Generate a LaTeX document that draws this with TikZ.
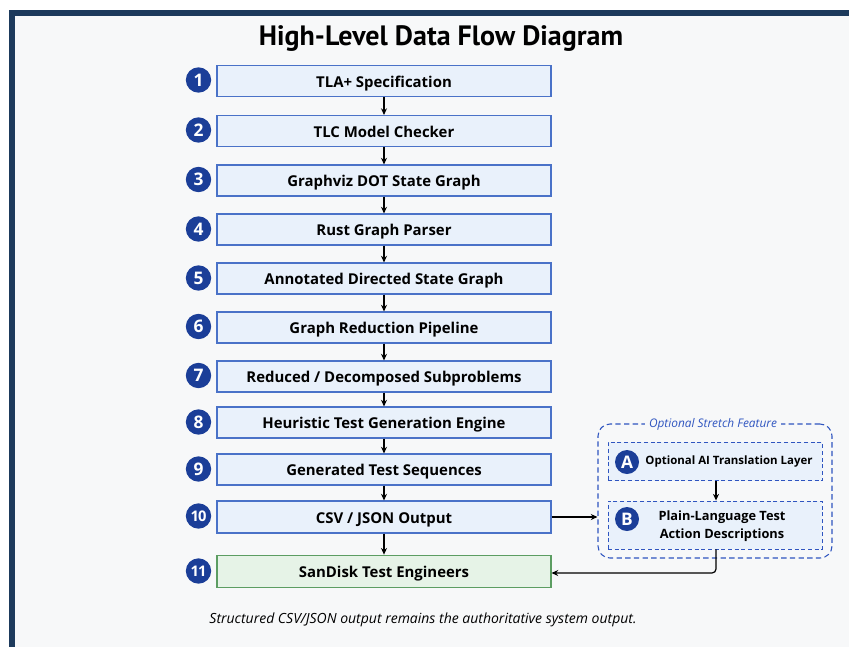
\documentclass[tikz,border=0pt]{standalone}
\usepackage{fontspec}
\setmainfont{Open Sans}
\newfontfamily\titlefont{PT Sans}
\usetikzlibrary{arrows.meta,positioning}
\definecolor{framenavy}{HTML}{1D3A5C}
\definecolor{pagebg}{HTML}{F7F8F9}
\definecolor{stepfill}{HTML}{E9F1FB}
\definecolor{stepline}{HTML}{4A72C8}
\definecolor{endfill}{HTML}{E6F3E7}
\definecolor{endline}{HTML}{5C9D62}
\definecolor{badgeblue}{HTML}{1B3E98}
\definecolor{optblue}{HTML}{2F55C0}
\tikzset{
  stepbox/.style={draw=stepline, fill=stepfill, line width=0.8pt,
    minimum width=250.5pt, minimum height=23.25pt, inner sep=0pt,
    text height=1.2em, text depth=0.25em,
    font=\fontsize{11.2}{13}\selectfont\bfseries},
  endbox/.style={stepbox, draw=endline, fill=endfill, minimum height=24.5pt},
  badge/.style={circle, fill=badgeblue, text=white, minimum size=19pt,
    inner sep=0pt, font=\fontsize{13}{14}\selectfont\bfseries},
  badgetwo/.style={badge, font=\fontsize{11}{12}\selectfont\bfseries\addfontfeature{LetterSpace=-6}},
  optbox/.style={draw=optblue, dashed, dash pattern=on 3pt off 2pt,
    fill=stepfill, line width=0.7pt, minimum width=160.5pt, inner sep=0pt},
  flow/.style={-{Stealth[length=5pt,width=4.5pt]}, line width=0.9pt, black},
}
\begin{document}
\begin{tikzpicture}[x=0.75pt,y=-0.75pt]
  % page and frame
  \useasboundingbox (0,0) rectangle (849,647);
  \fill[white] (0,0) rectangle (849,647);
  \fill[pagebg] (9,10) rectangle (849,647);
  \fill[framenavy] (9,10) rectangle (849,16);
  \fill[framenavy] (9,10) rectangle (15,647);

  % title
  \node (title) at (441,39) {\titlefont\fontsize{21}{24}\selectfont\bfseries High-Level Data Flow Diagram};

  % main pipeline
  \node[stepbox] (s1)  at (384,81)    {TLA+ Specification};
  \node[stepbox] (s2)  at (384,131)   {TLC Model Checker};
  \node[stepbox] (s3)  at (384,180.5) {Graphviz DOT State Graph};
  \node[stepbox] (s4)  at (384,229.5) {Rust Graph Parser};
  \node[stepbox] (s5)  at (384,278.5) {Annotated Directed State Graph};
  \node[stepbox] (s6)  at (384,327.5) {Graph Reduction Pipeline};
  \node[stepbox] (s7)  at (384,376.5) {Reduced / Decomposed Subproblems};
  \node[stepbox] (s8)  at (384,422.5) {Heuristic Test Generation Engine};
  \node[stepbox] (s9)  at (384,469.5) {Generated Test Sequences};
  \node[stepbox, minimum height=24pt] (s10) at (384,517) {CSV / JSON Output};
  \node[endbox]  (s11) at (384,571.5) {SanDisk Test Engineers};

  % step numbers
  \node[badge] (n1) at (198.5,80)    {1};
  \node[badge] (n2) at (198.5,130)   {2};
  \node[badge] (n3) at (198.5,179.5) {3};
  \node[badge] (n4) at (198.5,229)   {4};
  \node[badge] (n5) at (198.5,278)   {5};
  \node[badge] (n6) at (198.5,326.5) {6};
  \node[badge] (n7) at (198.5,375.5) {7};
  \node[badge] (n8) at (198.5,422)   {8};
  \node[badge] (n9) at (198.5,469)   {9};
  \node[badgetwo] (n10) at (198.5,516) {10};
  \node[badgetwo] (n11) at (198.5,571) {11};

  % pipeline arrows
  \foreach \a/\b in {s1/s2,s2/s3,s3/s4,s4/s5,s5/s6,s6/s7,s7/s8,s8/s9,s9/s10,s10/s11}
    \draw[flow] (\a.south) -- (\b.north);

  % optional stretch feature
  \node[draw=optblue, dashed, dash pattern=on 4pt off 2.5pt, line width=0.8pt,
        rounded corners=9pt, minimum width=175.5pt, minimum height=100.5pt]
        (opt) at (715,491) {};
  \node[fill=pagebg, inner xsep=3pt, inner ysep=1pt, text=optblue,
        font=\fontsize{8.9}{10}\selectfont\itshape] (optlabel) at (713,424)
        {Optional Stretch Feature};

  \node[optbox, minimum height=29pt] (oa) at (715,461.5) {};
  \node[optbox, minimum height=36pt] (ob) at (715,525) {};
  \node[badge, minimum size=18pt] (na) at (627,462) {A};
  \node[badge, minimum size=18pt] (nb) at (627,519) {B};
  \node[font=\fontsize{8.6}{10}\selectfont\bfseries] (ta) at (729,462)
        {Optional AI Translation Layer};
  \node[font=\fontsize{9.6}{13.5}\selectfont\bfseries, align=center] (tb) at (722,526)
        {Plain-Language Test\\Action Descriptions};

  \draw[flow] (oa.south -| 716,0) -- (ob.north -| 716,0);
  \draw[flow] (s10.east) -- (opt.west |- s10.east);
  \coordinate (bend) at (716,573);
  \draw[flow, rounded corners=3pt] (ob.south -| bend) -- (bend) -- (s11.east |- bend);

  % footnote
  \node[font=\fontsize{10.5}{12}\selectfont\itshape] (note) at (423,620)
        {Structured CSV/JSON output remains the authoritative system output.};
\end{tikzpicture}
\end{document}
